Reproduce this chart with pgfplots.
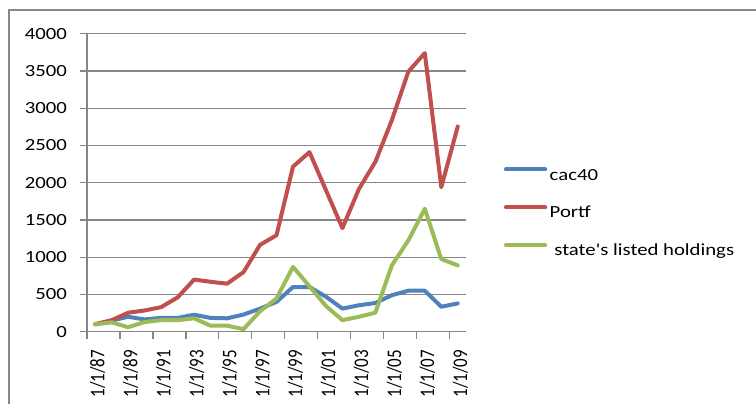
\documentclass[border=0pt]{standalone}
\usepackage{fontspec}
\setmainfont{Carlito}
\newfontfamily\widefont{Carlito}[FakeStretch=1.22]
\newfontfamily\plainfont{Carlito}
\usepackage{pgfplots}
\usepackage{pgfplotstable}
\pgfplotsset{compat=1.18}
\definecolor{cblue}{HTML}{4F81BD}
\definecolor{cred}{HTML}{C0504D}
\definecolor{cgreen}{HTML}{9BBB59}
\definecolor{cgray}{HTML}{868686}
\newcommand\wf{\widefont\fontsize{17bp}{20bp}\selectfont}
\newcommand\nf{\plainfont\fontsize{17bp}{20bp}\selectfont}
\newcommand\xl[1]{\scalebox{1}[1.22]{#1}}
\pgfplotstableread{
i cac portf state
0 100 100 100
1 150 155 125
2 200 255 60
3 165 285 130
4 185 330 155
5 185 460 155
6 228 700 180
7 185 670 80
8 180 645 80
9 230 800 35
10 310 1165 275
11 400 1295 445
12 600 2215 870
13 600 2410 610
14 470 1900 345
15 310 1390 155
16 355 1915 200
17 385 2280 255
18 490 2840 890
19 550 3490 1225
20 550 3740 1650
21 335 1940 975
22 380 2755 890
}\data
\begin{document}
\begin{tikzpicture}[x=1bp,y=1bp]
\useasboundingbox (0,0) rectangle (756,403);
\draw[cgray, line width=1.3bp] (9,-5) -- (9,393) -- (760,393);
\begin{axis}[
  at={(87bp,71.3bp)}, anchor=south west,
  scale only axis, width=379bp, height=298bp,
  xmin=-0.5, xmax=22.5, ymin=0, ymax=4000,
  axis x line*=bottom, axis y line*=left,
  axis line style={cgray, line width=1.3bp},
  ytick={0,500,1000,1500,2000,2500,3000,3500,4000},
  yticklabels={0,500,1000,1500,2000,2500,3000,3500,4000},
  yticklabel style={font=\wf, inner sep=0pt, xshift=-13bp},
  ymajorgrids, grid style={cgray, line width=1.3bp},
  tick align=outside,
  major tick length=7bp,
  tick style={cgray, line width=1.3bp},
  xtick={-0.5,1.5,3.5,5.5,7.5,9.5,11.5,13.5,15.5,17.5,19.5,21.5},
  xticklabels={,,,,,,,,,,,},
  xticklabel style={text opacity=0},
  extra x ticks={0,2,4,6,8,10,12,14,16,18,20,22},
  extra x tick labels={\xl{1/1/87},\xl{1/1/89},\xl{1/1/91},\xl{1/1/93},\xl{1/1/95},\xl{1/1/97},\xl{1/1/99},\xl{1/1/01},\xl{1/1/03},\xl{1/1/05},\xl{1/1/07},\xl{1/1/09}},
  extra x tick style={tick style={draw=none}, xticklabel style={text opacity=1, yshift=-11bp, xshift=2.5bp, rotate=90, anchor=east, inner sep=0pt, font=\nf}},
  legend style={at={(1.0995,0.5517)}, anchor=north west, draw=none, fill=none, inner sep=0pt, font=\wf,
    nodes={inner sep=0pt, text height=12bp, text depth=4bp}, row sep=21.3bp, column sep=2.5bp},
  legend cell align=left,
  legend image code/.code={\draw[#1, line width=4bp, line cap=round] (0bp,6.6bp) -- (39.3bp,6.6bp);},
  every axis plot/.append style={line width=4bp, line join=round, line cap=round},
]
\addplot[cblue] table[x=i, y=cac] {\data};
\addplot[cred] table[x=i, y=portf] {\data};
\addplot[cgreen] table[x=i, y=state] {\data};
\legend{cac40, Portf, \ state's listed holdings}
\end{axis}
\end{tikzpicture}
\end{document}
